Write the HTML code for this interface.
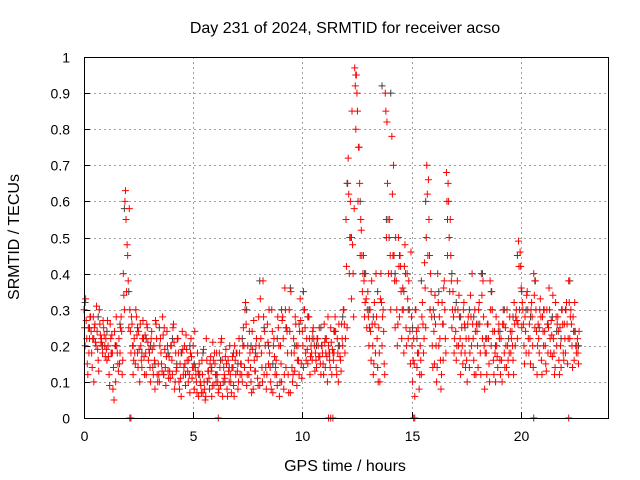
<!DOCTYPE html>
<html><head><meta charset="utf-8"><style>
html,body{margin:0;padding:0;background:#fff;}
svg{display:block;font-family:"Liberation Sans",sans-serif;}
</style></head><body>
<svg id="chart" width="640" height="480" viewBox="0 0 640 480">
<text x="345" y="33" font-size="16" text-anchor="middle">Day 231 of 2024, SRMTID for receiver acso</text>
<text x="345" y="471" font-size="16" text-anchor="middle">GPS time / hours</text>
<text x="19" y="237" font-size="16" text-anchor="middle" transform="rotate(-90 19 237)">SRMTID / TECUs</text>
<g id="grid"></g>
<g id="ticks"></g>
<g id="gray"></g>
<g id="red"></g>
<rect x="84.5" y="57.5" width="524" height="361" fill="none" stroke="#000" stroke-width="1"/>
</svg>
<script>
const xTicks=[0,5,10,15,20];
const yTicks=[0,0.1,0.2,0.3,0.4,0.5,0.6,0.7,0.8,0.9,1];
const yTickLabels=["0","0.1","0.2","0.3","0.4","0.5","0.6","0.7","0.8","0.9","1"];
const redStep=0.1;
const redUpper=[.30,.27,.25,.28,.22,.26,.24,.30,.22,.25,
.22,.20,.26,.18,.24,.20,.22,.28,.40,.63,
.45,.30,.26,.22,.28,.24,.20,.27,.23,.25,
.18,.24,.20,.26,.15,.22,.28,.19,.24,.17,
.20,.26,.18,.22,.15,.24,.20,.19,.16,.22,
.20,.14,.18,.12,.16,.10,.22,.13,.17,.21,
.15,.12,.18,.22,.14,.19,.16,.12,.17,.20,
.18,.22,.15,.25,.32,.20,.18,.24,.16,.22,
.28,.22,.38,.20,.26,.18,.30,.22,.16,.25,
.20,.28,.36,.24,.30,.18,.22,.26,.20,.33,
.24,.30,.22,.28,.20,.25,.18,.22,.17,.20,
.26,.22,.20,.25,.18,.28,.22,.20,.26,.30,
.55,.72,.60,.48,.97,.90,.75,.52,.45,.40,
.35,.30,.26,.32,.28,.25,.40,.30,.90,.65,
.55,.78,.45,.38,.50,.42,.36,.48,.40,.30,
.28,.22,.30,.25,.20,.32,.43,.70,.55,.35,
.30,.26,.40,.22,.32,.38,.68,.60,.45,.35,
.30,.38,.28,.25,.32,.22,.28,.34,.26,.30,
.24,.32,.40,.28,.22,.26,.38,.30,.24,.20,
.26,.22,.30,.25,.20,.28,.24,.32,.30,.49,
.42,.30,.28,.35,.26,.32,.40,.30,.26,.33,
.28,.24,.30,.36,.27,.22,.32,.28,.25,.30,
.26,.32,.38,.30,.28,.24,.22];
const redLower=[.20,.15,.22,.18,.10,.20,.16,.23,.18,.20,
.16,.12,.18,.14,.10,.15,.18,.12,.30,.35,
.25,.18,.12,.15,.18,.10,.14,.17,.12,.16,
.10,.14,.08,.12,.10,.15,.12,.09,.13,.11,
.12,.08,.14,.10,.06,.12,.09,.13,.07,.11,
.08,.10,.06,.09,.07,.05,.10,.08,.06,.09,
.10,.07,.09,.06,.11,.08,.10,.07,.09,.12,
.08,.12,.10,.14,.09,.12,.10,.08,.13,.11,
.09,.14,.12,.08,.15,.10,.07,.12,.09,.06,
.10,.08,.14,.12,.07,.10,.13,.09,.12,.15,
.14,.18,.15,.12,.16,.20,.14,.17,.12,.15,
.14,.10,.16,.12,.18,.14,.10,.16,.20,.18,
.25,.40,.33,.28,.80,.60,.45,.35,.28,.25,
.20,.16,.12,.18,.14,.10,.20,.15,.50,.40,
.30,.45,.25,.20,.28,.22,.18,.25,.22,.15,
.10,.06,.14,.08,.12,.18,.25,.45,.30,.20,
.15,.10,.20,.08,.16,.22,.45,.35,.25,.18,
.16,.20,.12,.15,.18,.10,.14,.20,.16,.12,
.14,.18,.22,.08,.12,.15,.20,.16,.10,.14,
.16,.10,.18,.14,.12,.18,.16,.20,.22,.30,
.25,.20,.18,.22,.15,.20,.25,.12,.18,.16,
.20,.15,.18,.22,.17,.12,.20,.16,.14,.18,
.18,.15,.22,.20,.16,.18,.15];
const redMid=[.25,.22,.18,.24,.28,.21,.19,.26,.20,.23,
.19,.17,.22,.08,.20,.18,.15,.24,.34,.55,
.38,.24,.20,.18,.23,.19,.16,.22,.18,.21,
.14,.19,.16,.22,.12,.18,.23,.14,.20,.13,
.16,.21,.13,.18,.11,.19,.15,.16,.12,.17,
.14,.12,.13,.10,.12,.08,.16,.11,.13,.16,
.12,.10,.14,.16,.12,.15,.13,.10,.14,.16,
.13,.18,.12,.20,.26,.16,.14,.19,.13,.17,
.20,.18,.28,.14,.21,.14,.24,.17,.12,.20,
.15,.22,.30,.18,.24,.14,.18,.20,.16,.27,
.20,.25,.19,.22,.18,.22,.16,.20,.15,.18,
.21,.17,.18,.21,.16,.24,.18,.17,.22,.26,
.42,.62,.50,.40,.92,.85,.65,.45,.38,.33,
.28,.24,.20,.26,.22,.18,.32,.24,.85,.55,
.45,.62,.38,.30,.42,.35,.30,.40,.33,.24,
.20,.15,.24,.18,.16,.26,.36,.62,.45,.28,
.24,.20,.32,.16,.26,.30,.60,.50,.38,.28,
.24,.30,.22,.20,.26,.16,.22,.28,.22,.24,
.20,.26,.34,.20,.18,.22,.30,.24,.18,.17,
.22,.16,.26,.20,.16,.24,.20,.26,.27,.42,
.36,.26,.24,.30,.22,.28,.34,.24,.22,.28,
.24,.20,.26,.30,.23,.18,.28,.24,.20,.26,
.22,.26,.32,.26,.24,.20,.18];
const redExtra=[.33,.12,.28,.14,.25,.31,.13,.21,.27,.17,
.27,.09,.23,.05,.28,.13,.25,.16,.60,.48,
.58,.28,.16,.30,.14,.26,.22,.12,.26,.19,
.22,.12,.27,.10,.20,.13,.25,.17,.11,.20,
.25,.10,.22,.08,.18,.14,.23,.10,.18,.14,
.24,.07,.15,.07,.19,.06,.13,.15,.09,.18,
.18,.08,.21,.10,.17,.06,.20,.14,.06,.18,
.10,.15,.20,.30,.12,.24,.07,.27,.20,.09,
.33,.10,.24,.12,.30,.08,.20,.14,.28,.10,
.27,.12,.25,.07,.35,.12,.28,.16,.24,.11,
.30,.16,.28,.17,.24,.13,.22,.25,.20,.12,
.18,.28,.14,.19,.24,.12,.26,.13,.30,.22,
.65,.50,.85,.58,.95,.75,.55,.40,.32,.30,
.25,.38,.15,.40,.10,.33,.28,.12,.82,.50,
.40,.70,.50,.26,.45,.30,.42,.20,.38,.46,
.16,.30,.18,.12,.28,.22,.50,.66,.40,.14,
.34,.14,.28,.12,.36,.18,.65,.55,.30,.22,
.20,.34,.18,.30,.14,.26,.18,.40,.12,.26,
.30,.12,.38,.18,.26,.10,.35,.12,.28,.24,
.12,.26,.14,.30,.18,.22,.12,.28,.26,.46,
.32,.15,.34,.18,.30,.14,.38,.20,.30,.12,
.30,.13,.25,.18,.34,.14,.26,.12,.30,.16,
.30,.22,.28,.14,.32,.20,.24];
const grayStep=0.2;
const grayValues=[.32,.25,.22,.28,.20,.24,.18,.20,.26,.58,
.35,.20,.25,.18,.22,.20,.15,.25,.12,.18,
.22,.15,.18,.12,.20,.15,.12,.18,.10,.14,
.12,.16,.10,.14,.18,.15,.22,.30,.20,.18,
.38,.25,.20,.15,.22,.30,.25,.36,.20,.26,
.35,.28,.22,.20,.25,.22,.18,.24,.20,.28,
.65,.50,.95,.60,.40,.30,.28,.35,.92,.55,
.90,.40,.45,.35,.30,.25,.22,.38,.60,.30,
.28,.35,.26,.55,.40,.32,.28,.25,.30,.28,
.26,.40,.22,.35,.20,.24,.30,.22,.28,.45,
.35,.30,.28,.38,.25,.30,.26,.28,.24,.22,
.30,.38,.24,.20];
const zeroRedTimes=[2.1,2.15,6.15,11.2,11.3,11.4,15.1,15.15,22.2];
const zeroGrayTimes=[20.6];

const NS="http://www.w3.org/2000/svg";
const X0=84,X1=608,Y0=418,Y1=57;
function xs(t){return X0+(t/24)*(X1-X0);}
function ys(v){return Y0-v*(Y0-Y1);}
function mk(tag,attrs,parent){const e=document.createElementNS(NS,tag);for(const k in attrs)e.setAttribute(k,attrs[k]);parent.appendChild(e);return e;}
const grid=document.getElementById('grid'),ticks=document.getElementById('ticks');
xTicks.forEach(t=>{
 const x=Math.round(xs(t))+0.5;
 const l=mk('line',{x1:x,x2:x,y1:Y1,y2:Y0,stroke:'#a0a0a0','stroke-dasharray':'2,3'},grid);
 
 
 const tk=mk('line',{x1:x,x2:x,y1:Y0,y2:Y0-6,stroke:'#000'},ticks);
 
 
 const tx=mk('text',{x:x,y:Y0+23,'font-size':14,'text-anchor':'middle'},ticks);
 tx.textContent=String(t);
 
 
});
yTicks.forEach((v,i)=>{
 const y=Math.round(ys(v))+0.5;
 const l=mk('line',{x1:X0,x2:X1,y1:y,y2:y,stroke:'#a0a0a0','stroke-dasharray':'2,3'},grid);
 
 
 const tk=mk('line',{x1:X0,x2:X0+6,y1:y,y2:y,stroke:'#000'},ticks);
 
 
 const tx=mk('text',{x:X0-14,y:y+5,'font-size':14,'text-anchor':'end'},ticks);
 tx.textContent=yTickLabels[i];
 
 
});
function plus(g,t,v,color){
 const x=xs(t),y=ys(v);
 const p=mk('path',{d:`M${x-3.5} ${y}H${x+3.5}M${x} ${y-3.5}V${y+3.5}`,stroke:color,'stroke-width':1,fill:'none'},g);
 
 
}
const gray=document.getElementById('gray'),red=document.getElementById('red');
grayValues.forEach((v,i)=>plus(gray,i*grayStep+0.05,v,'#404040'));
zeroGrayTimes.forEach(t=>plus(gray,t,0,'#404040'));
redUpper.forEach((v,i)=>plus(red,i*redStep,v,'#ff0000'));
redLower.forEach((v,i)=>plus(red,i*redStep+0.05,v,'#ff0000'));
redMid.forEach((v,i)=>plus(red,i*redStep+0.025,v,'#ff0000'));
redExtra.forEach((v,i)=>plus(red,i*redStep+0.075,v,'#ff0000'));
zeroRedTimes.forEach(t=>plus(red,t,0,'#ff0000'));
</script>
</body></html>
